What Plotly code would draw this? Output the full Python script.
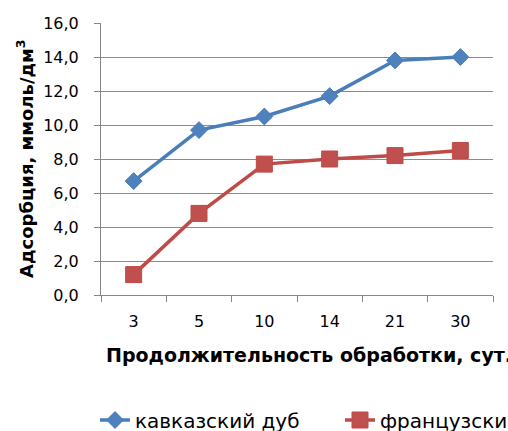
import plotly.graph_objects as go

categories = ["3", "5", "10", "14", "21", "30"]
caucasian_oak = [6.7, 9.7, 10.5, 11.7, 13.8, 14.0]
french_oak = [1.2, 4.8, 7.7, 8.0, 8.2, 8.5]
series_names = ["кавказский дуб", "французский дуб"]
y_title = "Адсорбция, ммоль/дм<sup>3</sup>"
x_title = "Продолжительность обработки, сут."

W, H = 650, 431
L, R, T, B = 101, W - 493, 23, 136
pw, ph = W - L - R, H - T - B

fig = go.Figure()
fig.add_trace(go.Scatter(
    x=categories, y=caucasian_oak, name=series_names[0], mode="lines+markers",
    line=dict(color="#4A7EBB", width=3.5),
    marker=dict(symbol="diamond", size=13, color="#4F81BD", line=dict(color="#4A7EBB", width=1)),
))
fig.add_trace(go.Scatter(
    x=categories, y=french_oak, name=series_names[1], mode="lines+markers",
    line=dict(color="#BE4B48", width=3.5),
    marker=dict(symbol="square", size=16, color="#C0504D", line=dict(color="#BE4B48", width=1)),
))

font_family = "DejaVu Sans"
fig.update_layout(
    width=W, height=H,
    margin=dict(l=L, r=R, t=T, b=B, pad=0, autoexpand=False),
    paper_bgcolor="white", plot_bgcolor="white",
    separators=", ",
    font=dict(family=font_family, size=16, color="black"),
    showlegend=True,
    legend=dict(orientation="h", x=(95 - L) / pw, xanchor="left",
                y=(295 - 420) / ph, yanchor="middle",
                font=dict(size=20, family=font_family), itemwidth=30,
                entrywidth=200, entrywidthmode="pixels",
                bgcolor="rgba(0,0,0,0)"),
    xaxis=dict(type="category", range=[-0.5, 5.5], tickson="boundaries",
               ticks="outside", ticklen=6, tickcolor="#868686",
               showline=True, linecolor="#868686", linewidth=1,
               showgrid=False, zeroline=False, ticklabelstandoff=12,
               tickfont=dict(size=16)),
    yaxis=dict(range=[0, 16], dtick=2, tickformat=".1f",
               ticks="outside", ticklen=6, tickcolor="#868686",
               showline=True, linecolor="#868686", linewidth=1,
               showgrid=True, gridcolor="#8C8C8C", gridwidth=1,
               zeroline=False, ticklabelstandoff=12,
               tickfont=dict(size=16)),
    annotations=[
        dict(text="<b>" + x_title + "</b>", xref="paper", yref="paper",
             x=(104 - L) / pw, y=(295 - 355) / ph, xanchor="left", yanchor="middle",
             showarrow=False, font=dict(size=19, family=font_family)),
        dict(text="<b>" + y_title + "</b>", xref="paper", yref="paper",
             x=(25 - L) / pw, y=0.5, xanchor="center", yanchor="middle",
             textangle=-90, showarrow=False, font=dict(size=18, family=font_family)),
    ],
)

fig.write_html("out.html", config={"displayModeBar": False}, post_script=(
    "document.body.style.margin='0';"
    "document.body.style.overflow='hidden';"
    "document.documentElement.style.overflow='hidden';"
))
